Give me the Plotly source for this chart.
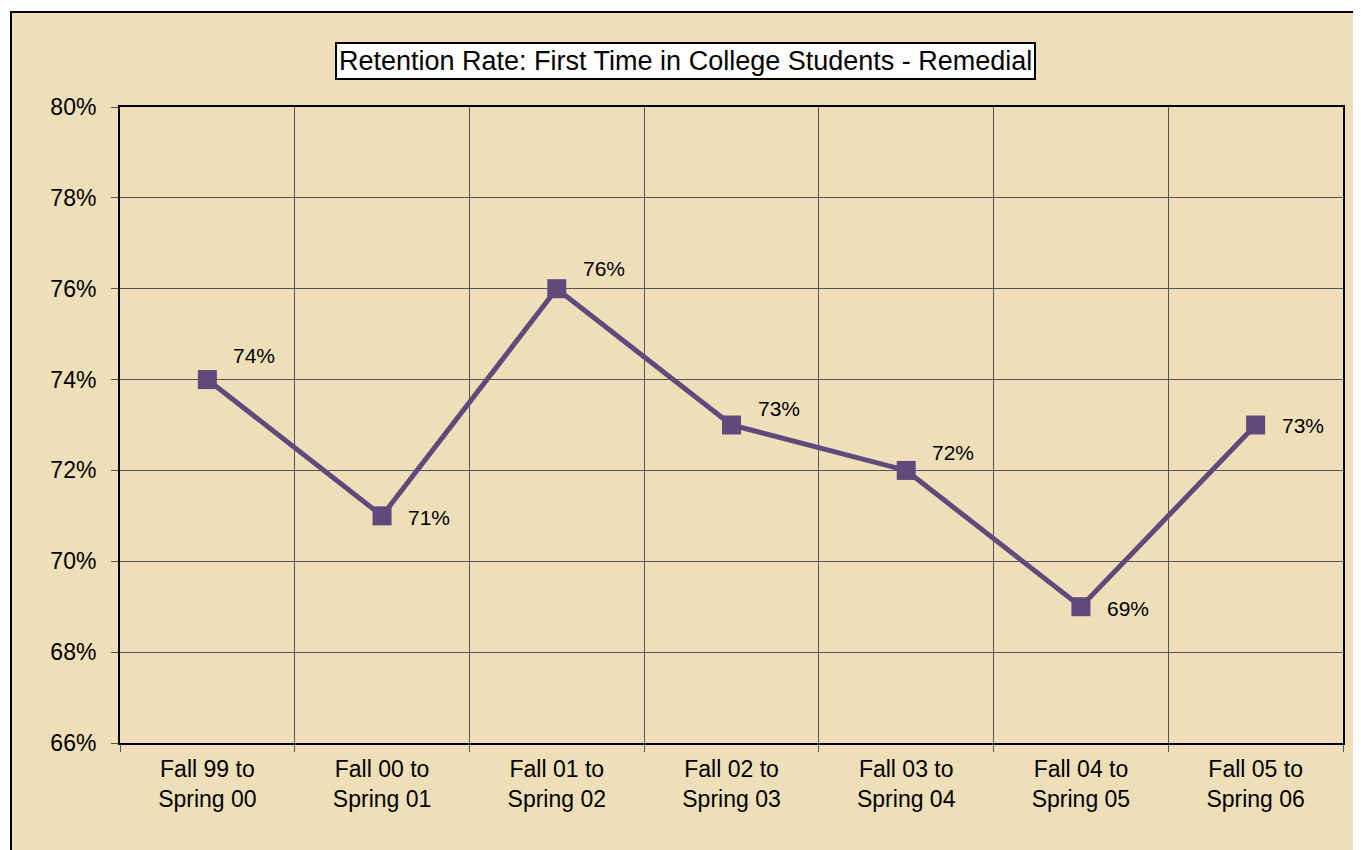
import plotly.graph_objects as go

# data
periods = ["Fall 99 to<br>Spring 00", "Fall 00 to<br>Spring 01", "Fall 01 to<br>Spring 02",
           "Fall 02 to<br>Spring 03", "Fall 03 to<br>Spring 04", "Fall 04 to<br>Spring 05",
           "Fall 05 to<br>Spring 06"]
retention = [0.74, 0.71, 0.76, 0.73, 0.72, 0.69, 0.73]
y_ticks = [0.66, 0.68, 0.70, 0.72, 0.74, 0.76, 0.78, 0.80]

TITLE = "Retention Rate: First Time in College Students - Remedial"
LINE_COLOR = "#604A7B"
BG = "#EEDFB9"
FONT = "Arial, Liberation Sans, sans-serif"

# label offsets (px) relative to each marker
label_dy = [24, -2, 20, 17, 18, -2, 0]

# page body has an 8px margin, so figure coords = page coords - 8
W, H = 1361, 850
L, T = 112, 99
plot_w, plot_h = 1223, 636
R, B = W - L - plot_w, H - T - plot_h

fig = go.Figure(go.Scatter(
    x=periods, y=retention, mode="lines+markers",
    line=dict(color=LINE_COLOR, width=5),
    marker=dict(symbol="square", size=19, color=LINE_COLOR),
    hoverinfo="skip",
))

for x, y, dy in zip(periods, retention, label_dy):
    fig.add_annotation(x=x, y=y, text=f"{round(y*100)}%", showarrow=False,
                       xanchor="left", yanchor="middle", xshift=24, yshift=dy,
                       font=dict(size=21, color="black", family=FONT))

# title box
fig.add_annotation(xref="paper", yref="paper", x=(677 - L) / plot_w, y=(T + plot_h - 53) / plot_h,
                   text=TITLE, showarrow=False, xanchor="center", yanchor="middle",
                   bgcolor="white", bordercolor="black", borderwidth=2, borderpad=2,
                   font=dict(size=27, color="black", family=FONT))

# outer chart-area border, filled parchment
fig.add_shape(type="rect", xref="paper", yref="paper",
              x0=(3 - L) / plot_w, x1=1.2, y0=-0.4, y1=(T + plot_h - 4) / plot_h,
              line=dict(color="black", width=2), fillcolor=BG, layer="below")

fig.update_layout(
    width=W, height=H,
    margin=dict(l=L, r=R, t=T, b=B),
    paper_bgcolor="white", plot_bgcolor=BG,
    showlegend=False,
    font=dict(family=FONT, size=23, color="black"),
    xaxis=dict(
        type="category", tickson="boundaries", ticks="outside", ticklen=7,
        tickcolor="#555", showgrid=True, gridcolor="#555", gridwidth=1,
        showline=True, linecolor="black", linewidth=2, mirror=True,
        tickfont=dict(size=23), range=[-0.5, 6.5], ticklabelstandoff=4,
    ),
    yaxis=dict(
        range=[0.66, 0.80], tickvals=y_ticks, tickformat=".0%",
        ticks="outside", ticklen=7, tickcolor="#555",
        showgrid=True, gridcolor="#555", gridwidth=1,
        showline=True, linecolor="black", linewidth=2, mirror=True,
        zeroline=False, tickfont=dict(size=23), ticklabelstandoff=10,
    ),
)

fig.write_html("out.html")
